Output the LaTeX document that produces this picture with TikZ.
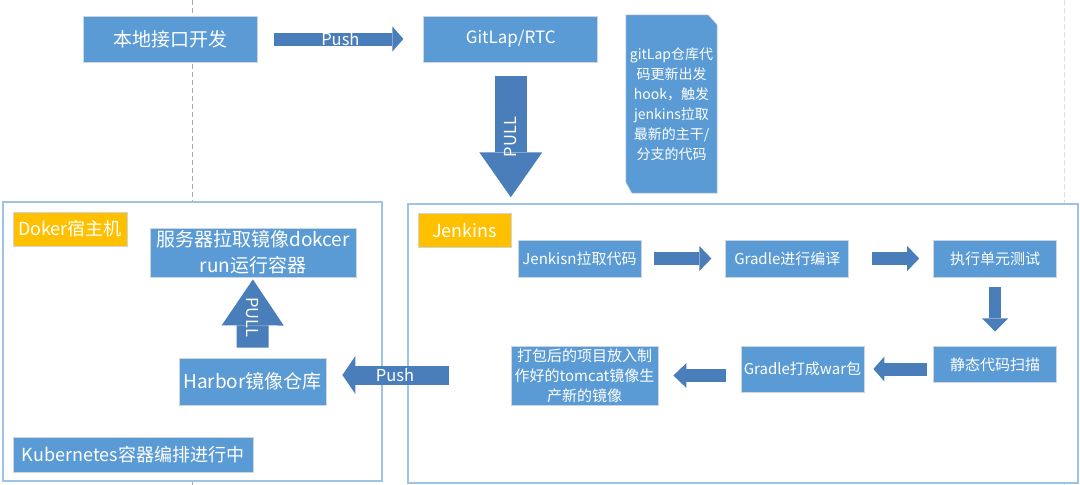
\documentclass[tikz,border=0pt]{standalone}
\usepackage{fontspec}
\setmainfont{Noto Sans CJK SC}
\usepackage{tikz}
\usetikzlibrary{arrows.meta, positioning, calc, backgrounds}
\definecolor{boxblue}{RGB}{91, 155, 213}
\definecolor{arrowblue}{RGB}{74, 126, 187}
\definecolor{frameblue}{RGB}{157, 195, 230}
\definecolor{tagorange}{RGB}{255, 192, 0}
\definecolor{edgegray}{RGB}{205, 213, 222}
\definecolor{guidegray}{RGB}{170, 170, 170}

\begin{document}
\begin{tikzpicture}[
    x=1pt, y=-1pt,
    every node/.style={text=white, inner sep=0pt},
    box/.style={rectangle, draw=edgegray, fill=boxblue, line width=0.8pt, align=center, font=\fontsize{19}{26}\selectfont},
    smallbox/.style={box, font=\fontsize{15}{20}\selectfont},
    tag/.style={rectangle, draw=edgegray, fill=tagorange, line width=0.8pt, font=\fontsize{18}{22}\selectfont},
    frame/.style={rectangle, draw=frameblue, line width=1.5pt, fill=white},
    flow/.style n args={3}{draw=arrowblue, line width=#1, -{Triangle[width=#2, length=#3, line width=0pt]}},
    lbl/.style={font=\fontsize{16.5}{18}\selectfont}
]
\useasboundingbox (0,0) rectangle (1080,485);
\draw[guidegray, dash pattern=on 5pt off 3pt] (192,0) -- (192,485);
\draw[guidegray!40, dash pattern=on 5pt off 3pt] (1064,0) -- (1064,485);

\node[frame, minimum width=379pt, minimum height=279pt] (dockerhost) at (192.5,341.5) {};
\node[frame, minimum width=670pt, minimum height=279pt] (jenkinshost) at (743,343.5) {};

\node[box, minimum width=174pt, minimum height=46pt] (localdev) at (170,39) {本地接口开发};
\node[box, right=166pt of localdev, minimum width=174pt, minimum height=46pt, font=\fontsize{17}{20}\selectfont] (gitlab) {GitLap/RTC};
\node[minimum width=91pt, minimum height=178pt, align=center, font=\fontsize{14}{20}\selectfont] (hooknote) at (671.5,104)
    {gitLap仓库代\\码更新出发\\hook，触发\\jenkins拉取\\最新的主干/\\分支的代码};
\begin{scope}[on background layer]
\filldraw[fill=boxblue, draw=edgegray, line width=0.6pt] (hooknote.north west) -- ([xshift=-9pt]hooknote.north east)
    -- ([yshift=-10pt]hooknote.north east) -- (hooknote.south east)
    -- ([xshift=6pt]hooknote.south west) -- ([yshift=11pt]hooknote.south west) -- cycle;
\end{scope}

\draw[flow={13pt}{25pt}{11pt}, shorten <=17pt, shorten >=20pt] (localdev) -- (gitlab) node[midway, lbl] {Push};
\draw[flow={32pt}{63pt}{45pt}, shorten <=14pt, shorten >=6pt] (gitlab.south) -- (gitlab.south |- jenkinshost.north)
    node[pos=0.53, rotate=90, lbl] {PULL};

\node[tag, minimum width=114pt, minimum height=34pt] (dockertag) at (70,229) {Doker宿主机};
\node[box, minimum width=206pt, minimum height=49pt] (dockerrun) at (253,252.5) {服务器拉取镜像dokcer\\run运行容器};
\node[box, minimum width=147pt, minimum height=47pt] (harbor) at (252.5,381.5) {Harbor镜像仓库};
\node[box, minimum width=240pt, minimum height=35pt, font=\fontsize{18}{22}\selectfont] (k8s) at (133,454.5) {Kubernetes容器编排进行中};
\draw[flow={32pt}{62pt}{46pt}, shorten <=10pt, shorten >=2pt] (harbor) -- (dockerrun) node[midway, rotate=-90, lbl] {PULL};

\node[tag, minimum width=93pt, minimum height=34pt] (jenkinstag) at (464.5,230) {Jenkins};
\node[smallbox, minimum width=123pt, minimum height=37pt] (checkout) at (579.5,258.5) {Jenkisn拉取代码};
\node[smallbox, right=84pt of checkout, minimum width=123pt, minimum height=37pt] (compile) {Gradle进行编译};
\node[smallbox, right=84pt of compile, minimum width=123pt, minimum height=37pt] (unittest) {执行单元测试};
\node[smallbox, below=69pt of unittest, minimum width=123pt, minimum height=36pt] (scan) {静态代码扫描};
\node[smallbox, minimum width=123pt, minimum height=46pt] (warpkg) at (802.5,369) {Gradle打成war包};
\node[smallbox, minimum width=147pt, minimum height=59pt] (newimage) at (584.5,375.5) {打包后的项目放入制\\作好的tomcat镜像生\\产新的镜像};

\draw[flow={13pt}{25pt}{12pt}, shorten <=13pt, shorten >=14pt] (checkout) -- (compile);
\draw[flow={13pt}{25pt}{12pt}, shorten <=23pt, shorten >=14pt] (compile) -- (unittest);
\draw[flow={12pt}{26pt}{13pt}, shorten <=10pt, shorten >=15pt] (unittest) -- (scan);
\draw[flow={13pt}{25pt}{11pt}, shorten <=6pt, shorten >=9pt] (scan.west |- warpkg.east) -- (warpkg.east);
\draw[flow={13pt}{25pt}{13pt}, shorten <=15pt, shorten >=15pt] (warpkg.west |- newimage.east) -- (newimage.east);

\coordinate (pushtail) at (449,375);
\draw[flow={19pt}{38pt}{13pt}, shorten >=16pt] (pushtail) -- (harbor.east |- pushtail) node[pos=0.44, lbl] {Push};
\end{tikzpicture}
\end{document}
